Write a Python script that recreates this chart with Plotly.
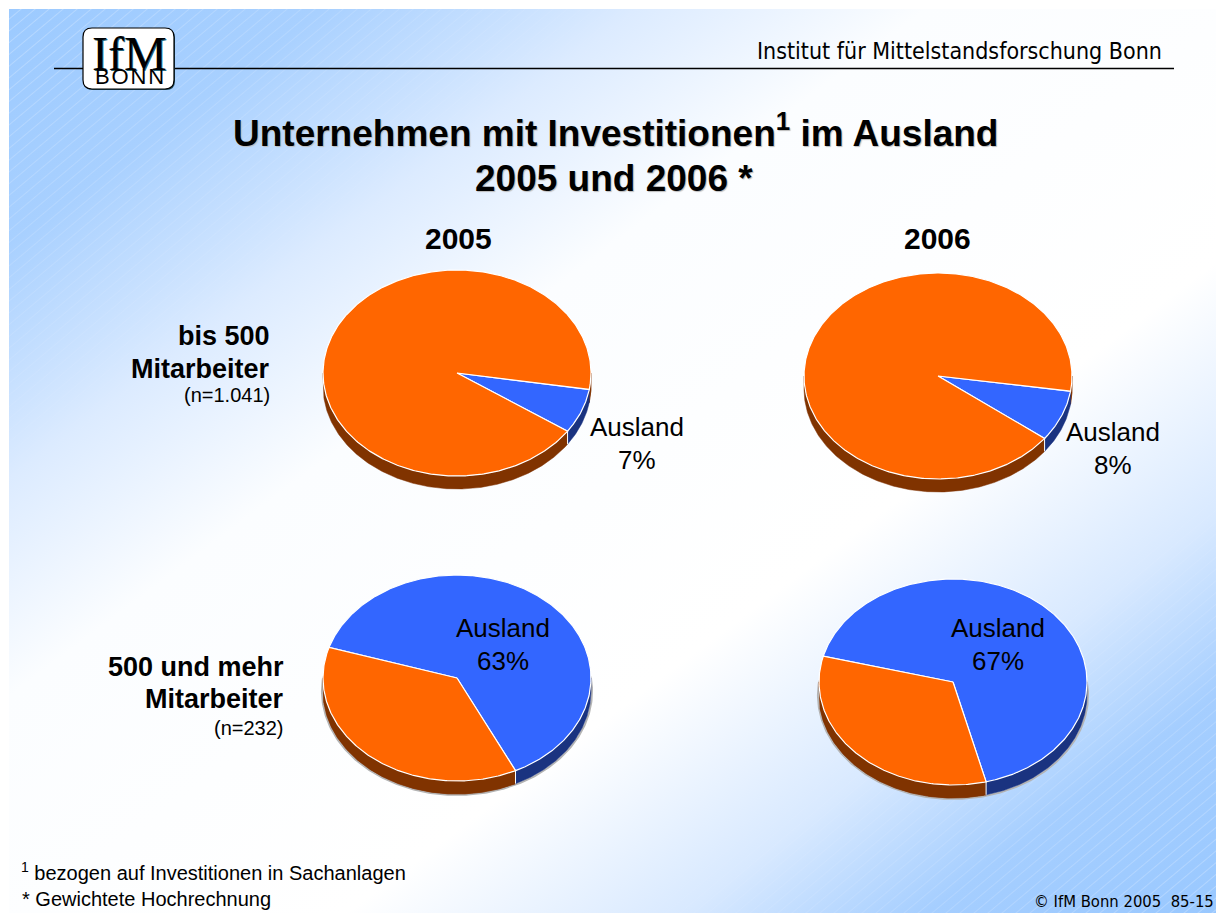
import base64
import math
import plotly.graph_objects as go

# ---------- data ----------
PANEL_NAMES = ["2005 bis 500", "2006 bis 500", "2005 500+", "2006 500+"]
AUSLAND_PCT = [7, 8, 63, 67]
AUSLAND_START_DEG = [9.2, 8.5, 197.3, 194.5]   # clockwise from 3 o'clock
LABEL_NAME = "Ausland"
LABEL_PCT = ["7%", "8%", "63%", "67%"]
COLUMN_LABELS = ["2005", "2006"]
ROW1_LABEL = ["bis 500", "Mitarbeiter", "(n=1.041)"]
ROW2_LABEL = ["500 und mehr", "Mitarbeiter", "(n=232)"]

# ---------- layout (pixels) ----------
W, H = 1216, 913
PANEL_CENTERS = [(457, 373), (938, 376), (457, 678), (953, 682)]
RX, RY = 134, 103
DEPTH_PX = 13
PAD = 1.2
LABEL_POS = [(637, 427, 460), (1113, 432, 465), (503, 628, 661), (998, 628, 661)]

BLUE, ORANGE = "#3366FF", "#FF6600"
BLUE_D, ORANGE_D = "#1A3380", "#803300"
SANS = "Liberation Sans"
SERIF = "Liberation Serif"
TAHOMA = "DejaVu Sans Condensed"


def px(x):
    return x / W


def py(y):
    return 1 - y / H


svg = f'''<svg xmlns="http://www.w3.org/2000/svg" width="{W}" height="{H}" viewBox="0 0 {W} {H}">
<defs>
<linearGradient id="g" x1="0" y1="0" x2="1" y2="1">
<stop offset="0" stop-color="#9ccaff"/><stop offset="0.13" stop-color="#a8d0ff"/>
<stop offset="0.26" stop-color="#dcebff"/><stop offset="0.38" stop-color="#fbfdff"/>
<stop offset="0.64" stop-color="#ffffff"/><stop offset="0.78" stop-color="#d8e9ff"/>
<stop offset="0.88" stop-color="#a5ceff"/><stop offset="1" stop-color="#99c8ff"/>
</linearGradient>
<pattern id="p" width="9" height="9" patternUnits="userSpaceOnUse" patternTransform="rotate(-40)">
<rect x="0" y="2" width="9" height="0.8" fill="#fff"/>
</pattern>
<linearGradient id="mm" x1="0" y1="0" x2="1" y2="1">
<stop offset="0" stop-color="#555"/><stop offset="0.3" stop-color="#000"/>
<stop offset="0.72" stop-color="#000"/><stop offset="1" stop-color="#555"/>
</linearGradient>
<mask id="k"><rect x="9" y="9" width="{W-9}" height="{H-9}" fill="url(#mm)"/></mask>
</defs>
<rect width="{W}" height="{H}" fill="#fff"/>
<rect x="9" y="9" width="{W-9}" height="{H-9}" fill="url(#g)"/>
<rect x="9" y="9" width="{W-9}" height="{H-9}" fill="url(#p)" mask="url(#k)"/>
</svg>'''
bg = "data:image/svg+xml;base64," + base64.b64encode(svg.encode()).decode()


def arc(a0, a1, dy=0.0):
    n = max(2, int(abs(a1 - a0) * 1.5) + 1)
    angs = [a0 + (a1 - a0) * i / (n - 1) for i in range(n)]
    return ([math.cos(math.radians(a)) for a in angs],
            [-math.sin(math.radians(a)) - dy for a in angs])


fig = go.Figure()
layout_axes = {}
depth = DEPTH_PX / RY


def add(i, x, y, **kw):
    ref = "" if i == 0 else str(i + 1)
    fig.add_trace(go.Scatter(x=x, y=y, xaxis="x" + ref, yaxis="y" + ref,
                             mode="lines", hoverinfo="skip", showlegend=False, **kw))


def wall(i, a0, a1, color):
    # visible part of the side wall: screen angles 0..180 (mod 360)
    for shift in (0, 360):
        lo, hi = max(a0, shift), min(a1, shift + 180)
        if hi > lo:
            x1, y1 = arc(lo, hi)
            x2, y2 = arc(hi, lo, depth)
            add(i, x1 + x2 + x1[:1], y1 + y2 + y1[:1], fill="toself", fillcolor=color,
                line=dict(color=color, width=0.5))


for i, (pct, start, (cx, cy)) in enumerate(zip(AUSLAND_PCT, AUSLAND_START_DEG, PANEL_CENTERS)):
    key = "" if i == 0 else str(i + 1)
    layout_axes["xaxis" + key] = dict(visible=False, range=[-PAD, PAD], fixedrange=True,
                                      domain=[px(cx - PAD * RX), px(cx + PAD * RX)], anchor="y" + key)
    layout_axes["yaxis" + key] = dict(visible=False, range=[-PAD, PAD], fixedrange=True,
                                      domain=[py(cy + PAD * RY), py(cy - PAD * RY)], anchor="x" + key)

    end = start + pct * 3.6
    # soft grey rim on the lower row
    if i >= 2:
        x1, y1 = arc(-8, 188, depth)
        add(i, [v * 1.008 for v in x1], [v * 1.008 for v in y1],
            line=dict(color="#b4b4b4", width=2))
    # side walls: orange first, blue on top
    wall(i, end - 360, start, ORANGE_D)
    wall(i, end, start + 360, ORANGE_D)
    wall(i, start, end, BLUE_D)
    # dividers on the wall
    for a in (start, end):
        a_mod = a % 360
        if 20 < a_mod < 180:
            x, y = arc(a_mod, a_mod)
            add(i, [x[0], x[0]], [y[0], y[0] - depth], line=dict(color="white", width=1))
    # top faces
    x, y = arc(start, end)
    add(i, [0] + x + [0], [0] + y + [0], fill="toself", fillcolor=BLUE,
        line=dict(color="white", width=1.2))
    x, y = arc(end, start + 360)
    add(i, [0] + x + [0], [0] + y + [0], fill="toself", fillcolor=ORANGE,
        line=dict(color="white", width=1.2))

ann = []


def text(x, y, s, size, anchor="center", family=SANS, bold=False, shadow=None, color="black"):
    f = dict(size=size, family=family, color=color, weight="bold" if bold else "normal")
    if shadow:
        f["shadow"] = shadow
    ann.append(dict(x=px(x), y=py(y), xref="paper", yref="paper", text=s, showarrow=False,
                    xanchor=anchor, yanchor="middle", font=f, borderpad=0, align="center"))


TITLE_SHADOW = "1px 1px 1px #bbb"
text(615, 130.5, "Unternehmen mit Investitionen<sup>1</sup> im Ausland", 37, bold=True, shadow=TITLE_SHADOW)
text(614, 178, "2005 und 2006 *", 37, bold=True, shadow=TITLE_SHADOW)
text(458, 238, COLUMN_LABELS[0], 30, bold=True)
text(937, 239, COLUMN_LABELS[1], 30, bold=True)
for s, y, sz, b in zip(ROW1_LABEL, (336, 369, 395), (27, 27, 20), (True, True, False)):
    text(271, y, s, sz, anchor="right", bold=b)
for s, y, sz, b in zip(ROW2_LABEL, (667, 699, 728), (27, 27, 20), (True, True, False)):
    text(285, y, s, sz, anchor="right", bold=b)
for (x, y1, y2), s in zip(LABEL_POS, LABEL_PCT):
    text(x, y1, LABEL_NAME, 26)
    text(x, y2, s, 26)
text(20, 871, "<sup>1</sup> bezogen auf Investitionen in Sachanlagen", 20, anchor="left")
text(21, 899, "* Gewichtete Hochrechnung", 20, anchor="left")
text(1163, 51, "Institut für Mittelstandsforschung Bonn", 23, anchor="right", family=TAHOMA)
text(1215, 901, "© IfM Bonn 2005\u00a0\u00a085-15", 16.5, anchor="right", family=TAHOMA)
text(129, 53, "IfM", 48, family=SERIF, shadow="1px 1px 0px #2a6a80")
text(129, 76, "B\u200aO\u200aN\u200aN", 22)


def rrect(x0, y0, x1, y1, r):
    X, Y = px, py
    return (f"M {X(x0+r)} {Y(y0)} L {X(x1-r)} {Y(y0)} Q {X(x1)} {Y(y0)} {X(x1)} {Y(y0+r)} "
            f"L {X(x1)} {Y(y1-r)} Q {X(x1)} {Y(y1)} {X(x1-r)} {Y(y1)} "
            f"L {X(x0+r)} {Y(y1)} Q {X(x0)} {Y(y1)} {X(x0)} {Y(y1-r)} "
            f"L {X(x0)} {Y(y0+r)} Q {X(x0)} {Y(y0)} {X(x0+r)} {Y(y0)} Z")


shapes = [
    dict(type="line", xref="paper", yref="paper", x0=px(54), x1=px(1174), y0=py(68.5), y1=py(68.5),
         line=dict(color="black", width=1.5), layer="below"),
    dict(type="path", xref="paper", yref="paper", path=rrect(84, 29, 175, 90, 9),
         fillcolor="#1d4a5c", line=dict(width=0), layer="below"),
    dict(type="path", xref="paper", yref="paper", path=rrect(83, 28, 174, 89, 9),
         fillcolor="white", line=dict(color="black", width=1.2), layer="below"),
]

fig.update_layout(
    width=W, height=H, margin=dict(l=0, r=0, t=0, b=0, pad=0),
    paper_bgcolor="white", plot_bgcolor="rgba(0,0,0,0)",
    images=[dict(source=bg, xref="paper", yref="paper", x=0, y=1, sizex=1, sizey=1,
                 xanchor="left", yanchor="top", sizing="stretch", layer="below")],
    annotations=ann, shapes=shapes, showlegend=False, **layout_axes,
)
fig.write_html("out.html", config=dict(displayModeBar=False),
               post_script="document.body.style.margin='0';document.documentElement.style.overflow='hidden';")
